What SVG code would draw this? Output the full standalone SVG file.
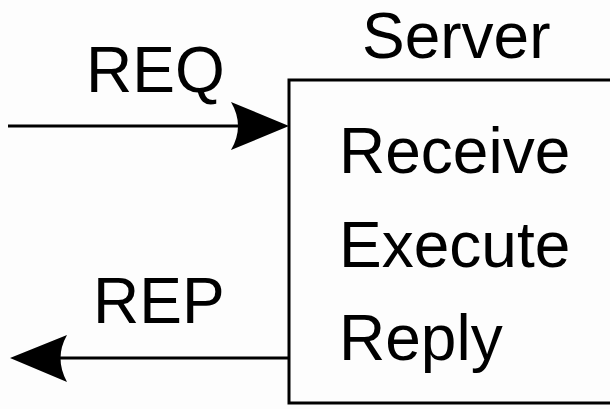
<svg xmlns="http://www.w3.org/2000/svg" width="610" height="409" viewBox="0 0 610 409">
  <style>
    text { font-family: "Liberation Sans", Arial, sans-serif; font-size: 64px; fill: #000; }
    .line { stroke: #000; stroke-width: 3; fill: none; }
    .head { fill: #000; stroke: none; }
  </style>
  <rect width="610" height="409" fill="#fdfdfd"/>
  <g id="server">
    <path class="line" d="M 620 80 L 289 80 L 289 403 L 620 403"/>
    <text x="362" y="58">Server</text>
    <text x="339" y="173">Receive</text>
    <text x="339" y="267">Execute</text>
    <text x="339" y="360">Reply</text>
  </g>
  <g id="connectors">
    <g id="req">
      <line class="line" x1="8" y1="126" x2="250" y2="126"/>
      <path class="head" d="M 289 126 L 231 102 Q 245 126 231 150 Z"/>
      <text x="86" y="92">REQ</text>
    </g>
    <g id="rep">
      <line class="line" x1="289" y1="358" x2="50" y2="358"/>
      <path class="head" d="M 10 358 L 67 335 Q 54 358 67 382 Z"/>
      <text x="93" y="323">REP</text>
    </g>
  </g>
</svg>
